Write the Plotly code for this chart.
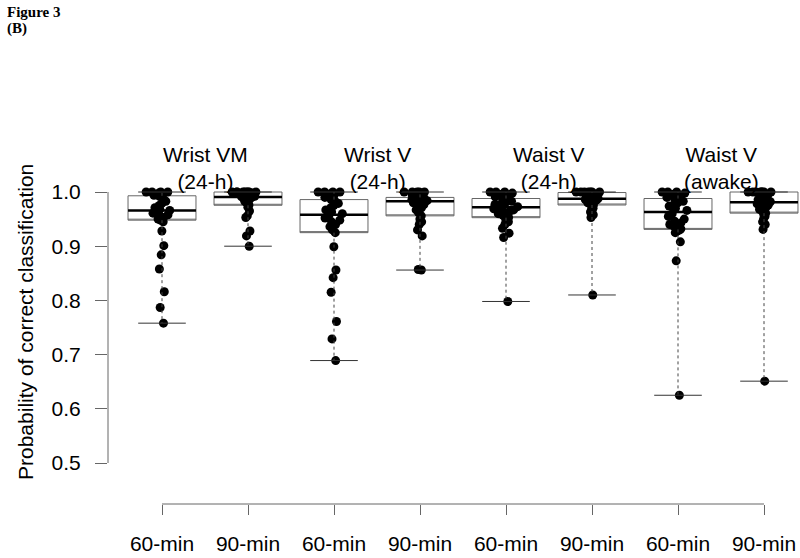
import plotly.graph_objects as go

# ---------------- data ----------------
group_titles = ["Wrist VM<br>(24-h)", "Wrist V<br>(24-h)", "Waist V<br>(24-h)", "Waist V<br>(awake)"]
tick_labels = ["60-min", "90-min", "60-min", "90-min", "60-min", "90-min", "60-min", "90-min"]
positions = [1, 2, 3, 4, 5, 6, 7, 8]
y_ticks = [0.5, 0.6, 0.7, 0.8, 0.9, 1.0]

# box statistics
q1 = [0.948, 0.9755, 0.925, 0.956, 0.9526, 0.976, 0.931, 0.961]
median = [0.966, 0.991, 0.958, 0.983, 0.972, 0.9877, 0.963, 0.981]
q3 = [0.993, 1.0, 0.986, 0.990, 0.988, 0.999, 0.988, 1.0]
lower_whisker = [0.758, 0.900, 0.689, 0.856, 0.798, 0.810, 0.625, 0.651]
upper_whisker = [1.0, 1.0, 1.0, 1.0, 1.0, 1.0, 1.0, 1.0]

# individual points
p_wvm_60 = [0.758, 0.787, 0.816, 0.858, 0.884, 0.901, 0.928, 0.945, 0.948, 0.950, 0.953, 0.956, 0.958, 0.961, 0.964,
            0.966, 0.968, 0.971, 0.975, 0.979, 0.983, 0.988, 0.992, 0.994, 0.996, 0.998, 1.0, 1.0, 1.0, 1.0]
p_wvm_90 = [0.900, 0.919, 0.928, 0.953, 0.956, 0.965, 0.972, 0.976, 0.980, 0.983, 0.986, 0.988, 0.990, 0.991, 0.991,
            0.992, 0.994, 0.995, 0.996, 0.997, 0.998, 1.0, 1.0, 1.0, 1.0, 1.0, 1.0, 1.0, 1.0, 1.0]
p_wv_60 = [0.689, 0.729, 0.761, 0.815, 0.842, 0.856, 0.899, 0.925, 0.930, 0.936, 0.940, 0.945, 0.948, 0.952, 0.955,
           0.960, 0.963, 0.967, 0.971, 0.975, 0.979, 0.983, 0.986, 0.990, 0.994, 0.997, 1.0, 1.0, 1.0, 1.0]
p_wv_90 = [0.856, 0.857, 0.919, 0.930, 0.940, 0.945, 0.950, 0.956, 0.962, 0.967, 0.971, 0.974, 0.977, 0.980, 0.982,
           0.984, 0.985, 0.986, 0.987, 0.988, 0.989, 0.990, 0.990, 0.995, 0.998, 1.0, 1.0, 1.0, 1.0, 1.0]
p_wsv_60 = [0.798, 0.916, 0.924, 0.933, 0.940, 0.945, 0.950, 0.953, 0.957, 0.960, 0.963, 0.965, 0.967, 0.969, 0.971,
            0.973, 0.975, 0.977, 0.979, 0.981, 0.983, 0.985, 0.988, 0.991, 0.994, 0.996, 0.998, 1.0, 1.0, 1.0]
p_wsv_90 = [0.810, 0.953, 0.958, 0.963, 0.967, 0.970, 0.973, 0.976, 0.978, 0.980, 0.982, 0.983, 0.985, 0.986, 0.987,
            0.988, 0.989, 0.990, 0.992, 0.994, 0.996, 0.998, 0.999, 1.0, 1.0, 1.0, 1.0, 1.0, 1.0, 1.0]
p_wsa_60 = [0.625, 0.873, 0.908, 0.925, 0.928, 0.930, 0.931, 0.932, 0.936, 0.940, 0.943, 0.946, 0.950, 0.955, 0.960,
            0.966, 0.970, 0.974, 0.977, 0.980, 0.983, 0.985, 0.988, 0.990, 0.993, 0.996, 0.998, 1.0, 1.0, 1.0]
p_wsa_90 = [0.651, 0.931, 0.940, 0.945, 0.950, 0.955, 0.958, 0.961, 0.965, 0.968, 0.971, 0.974, 0.976, 0.978, 0.980,
            0.982, 0.984, 0.986, 0.988, 0.990, 0.993, 0.996, 1.0, 1.0, 1.0, 1.0, 1.0, 1.0, 1.0, 1.0]
points = [p_wvm_60, p_wvm_90, p_wv_60, p_wv_90, p_wsv_60, p_wsv_90, p_wsa_60, p_wsa_90]

y_title = "Probability of correct classification"

# ---------------- layout geometry ----------------
W, H = 800, 558
L, R, T, B = 108, 0, 130, 54
plot_w, plot_h = W - L - R, H - T - B
x_ppu = 86.0           # pixels per category step
y_ppu = 542.0          # pixels per unit of probability
x0 = 1 - (162 - L) / x_ppu
y0 = 0.5 - (504 - 463) / y_ppu
x_range = [x0, x0 + plot_w / x_ppu]
y_range = [y0, y0 + plot_h / y_ppu]


def paper_x(px):
    return (px - L) / plot_w


def paper_y(py):
    return (H - B - py) / plot_h


FONT = "Liberation Sans, Arial, sans-serif"
BOX_W = 0.79
GRAY = "#666666"

fig = go.Figure()

# boxes
fig.add_trace(go.Box(
    x=positions, q1=q1, median=q1, q3=q3, lowerfence=q1, upperfence=q3,
    width=BOX_W, whiskerwidth=0, fillcolor="white",
    line=dict(color=GRAY, width=1), boxpoints=False, hoverinfo="skip", showlegend=False,
))
# thick median lines
fig.add_trace(go.Box(
    x=positions, q1=median, median=median, q3=median, lowerfence=median, upperfence=median,
    width=BOX_W, whiskerwidth=0, fillcolor="rgba(0,0,0,0)",
    line=dict(color="black", width=2.5), boxpoints=False, hoverinfo="skip", showlegend=False,
))

# dashed whiskers
wx, wy = [], []
for p, a, b, c, d in zip(positions, q1, lower_whisker, q3, upper_whisker):
    wx += [p, p, None, p, p, None]
    wy += [a, b, None, c, d, None]
fig.add_trace(go.Scatter(
    x=wx, y=wy, mode="lines", line=dict(color="#444444", width=1, dash="3px,3px"),
    hoverinfo="skip", showlegend=False,
))
# whisker caps
fig.add_trace(go.Scatter(
    x=positions + positions, y=lower_whisker + upper_whisker, mode="markers",
    marker=dict(symbol="line-ew", size=34, color="#333333", line=dict(color="#333333", width=1)),
    hoverinfo="skip", showlegend=False,
))

# jittered points
for p, vals in zip(positions, points):
    fig.add_trace(go.Box(
        x=[p] * len(vals), y=vals, width=BOX_W, boxpoints="all", jitter=0.5, pointpos=0,
        fillcolor="rgba(0,0,0,0)", line=dict(color="rgba(0,0,0,0)", width=0),
        marker=dict(color="black", size=9), hoverinfo="skip", showlegend=False,
    ))

# group titles
for i, txt in enumerate(group_titles):
    fig.add_annotation(
        x=positions[2 * i] + 0.5, xref="x", y=paper_y(168), yref="paper",
        text=txt, showarrow=False, font=dict(family=FONT, size=21, color="black"),
        xanchor="center", yanchor="middle",
    )

# y-axis title
fig.add_annotation(x=paper_x(25), y=paper_y(322), xref="paper", yref="paper", text=y_title,
                   textangle=-90, showarrow=False, xanchor="center", yanchor="middle",
                   font=dict(family=FONT, size=21, color="black"))

# axis lines (R style, detached)
fig.add_shape(type="line", xref="x", yref="paper", x0=positions[0], x1=positions[-1], y0=0, y1=0,
              line=dict(color=GRAY, width=1))
fig.add_shape(type="line", xref="paper", yref="y", x0=0, x1=0, y0=y_ticks[0], y1=y_ticks[-1],
              line=dict(color=GRAY, width=1))

# figure label
SERIF = "Liberation Serif, Times New Roman, serif"
fig.add_annotation(x=paper_x(5), y=paper_y(12), xref="paper", yref="paper", text="<b>Figure 3</b>",
                   showarrow=False, xanchor="left", yanchor="middle",
                   font=dict(family=SERIF, size=15, color="black"))
fig.add_annotation(x=paper_x(5), y=paper_y(28), xref="paper", yref="paper", text="<b>(B)</b>",
                   showarrow=False, xanchor="left", yanchor="middle",
                   font=dict(family=SERIF, size=15, color="black"))

fig.update_layout(
    width=W, height=H, margin=dict(l=L, r=R, t=T, b=B, pad=0),
    paper_bgcolor="white", plot_bgcolor="white", boxmode="overlay",
    font=dict(family=FONT, size=21, color="black"),
    xaxis=dict(range=x_range, tickvals=positions, ticktext=tick_labels, ticks="outside", ticklen=10,
               tickcolor=GRAY, showline=False, showgrid=False, zeroline=False, ticklabelstandoff=11,
               tickfont=dict(family=FONT, size=21, color="black")),
    yaxis=dict(range=y_range, tickvals=y_ticks, ticktext=[f"{v:.1f}" for v in y_ticks], ticks="outside",
               ticklen=12, tickcolor=GRAY, showline=False, showgrid=False, zeroline=False,
               ticklabelstandoff=10, tickfont=dict(family=FONT, size=21, color="black")),
)

fig.write_html("out.html", config={"displayModeBar": False},
               post_script="document.body.style.margin='0';document.body.style.overflow='hidden';")
